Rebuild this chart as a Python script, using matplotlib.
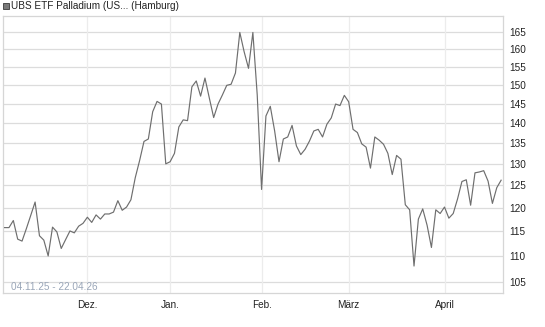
import matplotlib
matplotlib.use("Agg")
import matplotlib.pyplot as plt
import numpy as np
import pandas as pd
from matplotlib.patches import Rectangle
from matplotlib.ticker import FixedLocator, NullLocator

plt.rcParams["font.family"] = ["Liberation Sans", "DejaVu Sans"]

# ── Daten ────────────────────────────────────────────────────────────────
title = "UBS ETF Palladium (US... (Hamburg)"
date_range_label = "04.11.25 - 22.04.26"
start_date = "2025-11-04"
end_date = "2026-04-22"
holidays = ["2025-12-24", "2025-12-25", "2025-12-26", "2025-12-31",
            "2026-01-01", "2026-04-03", "2026-04-06"]

prices = [
    115.8, 115.8, 117.3, 113.4, 113.0, 115.6, 118.4, 121.3, 114.1, 113.2,
    110.0, 115.9, 114.9, 111.5, 113.3, 115.1, 114.7, 116.1, 116.7, 118.0,
    116.9, 118.5, 117.6, 118.7, 118.7, 119.1, 121.6, 119.5, 120.2, 121.8,
    126.8, 130.8, 135.4, 136.0, 142.9, 145.6, 144.9, 130.0, 130.5, 132.5,
    139.0, 140.8, 140.6, 149.5, 151.1, 147.0, 151.9, 146.5, 141.4, 144.9,
    147.3, 149.9, 150.2, 153.3, 165.0, 159.3, 154.6, 165.0, 147.3, 124.1,
    141.8, 144.3, 138.0, 130.5, 136.0, 136.5, 139.4, 134.3, 132.2, 133.5,
    135.5, 138.0, 138.4, 136.5, 139.7, 141.3, 144.9, 144.5, 147.2, 145.5,
    138.4, 137.6, 134.8, 134.0, 129.0, 136.5, 135.7, 134.7, 132.5, 127.5,
    132.0, 131.1, 120.7, 119.6, 108.0, 117.6, 119.8, 116.3, 111.7, 119.6,
    118.8, 120.2, 117.8, 118.8, 122.0, 125.9, 126.3, 120.6, 127.9, 128.1,
    128.4, 126.0, 121.0, 124.5, 126.2,
]

month_labels = ["Dez.", "Jan.", "Feb.", "März", "April"]
y_ticks = [105, 110, 115, 120, 125, 130, 135, 140, 145, 150, 155, 160, 165]

# Handelstage (Index-Achse wie im Original)
days = pd.bdate_range(start_date, end_date)
days = days[~days.isin(pd.to_datetime(holidays))]
x = np.arange(len(days))
month_pos = [int(np.argmax(days.month == m)) for m in [12, 1, 2, 3, 4]]

# ── Plot ─────────────────────────────────────────────────────────────────
fig = plt.figure(figsize=(5.45, 3.27), dpi=100)
ax = fig.add_axes([2.7 / 545, 1 - 292.7 / 327, (503.3 - 2.7) / 545, (292.7 - 16) / 327])

ax.plot(x, prices, color="#6e6e6e", linewidth=0.85, zorder=3)

ax.set_yscale("log")
ax.set_ylim(102.9, 170.0)
ax.set_xlim(-0.44, 114.5)

ax.yaxis.set_major_locator(FixedLocator(y_ticks))
ax.yaxis.set_minor_locator(NullLocator())
ax.set_yticklabels([str(v) for v in y_ticks])
ax.yaxis.tick_right()
ax.set_xticks(month_pos)
ax.set_xticklabels(month_labels)
ax.xaxis.set_minor_locator(NullLocator())
ax.tick_params(axis="both", length=0, labelsize=7.2, colors="#222222")
ax.tick_params(axis="y", pad=4)
ax.tick_params(axis="x", pad=5)

for v in y_ticks:
    ax.axhline(v, color="#dcdcdc", linewidth=0.9, zorder=1)
for p in month_pos:
    ax.axvline(p, color="#ececec", linewidth=0.9, zorder=1)

for s in ax.spines.values():
    s.set_color("#d6d6d6")
    s.set_linewidth(0.9)

ax.text(8.3 / 500.6, (292.7 - 286.7) / 276.7, date_range_label, transform=ax.transAxes,
        fontsize=7.2, color="#9aa6b8", va="center", ha="left", zorder=4)

# Titel mit Legendenquadrat
fig.patches.append(Rectangle((2.7 / 545, 1 - 9 / 327), 6 / 545, 5.7 / 327,
                             transform=fig.transFigure, facecolor="#7a7a7a",
                             edgecolor="#3a3a3a", linewidth=0.6))
fig.text(10.7 / 545, 1 - 6.3 / 327, title, fontsize=7.2, color="#222222",
         ha="left", va="center")

fig.savefig("out.png", dpi=100)
